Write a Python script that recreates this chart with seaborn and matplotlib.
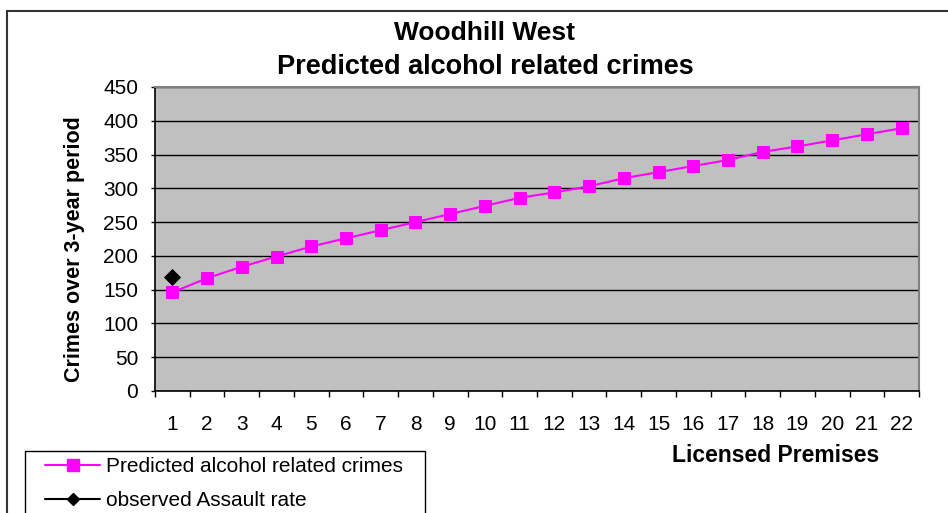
import numpy as np
import pandas as pd
import matplotlib
matplotlib.use("Agg")
import matplotlib.pyplot as plt
from matplotlib.lines import Line2D
from matplotlib.patches import Rectangle
import seaborn as sns

# values
premises = list(range(1, 23))
predicted = [146, 167, 184, 199, 214, 226, 238, 250, 262, 274, 286,
             294, 303, 315, 324, 333, 342, 354, 362, 371, 380, 389]
observed_x = [1]
observed_y = [169]
y_ticks = [0, 50, 100, 150, 200, 250, 300, 350, 400, 450]

pred_label = "Predicted alcohol related crimes"
obs_label = "observed Assault rate"

sns.set_theme(style="white")
plt.rcParams['font.family'] = ['Liberation Sans', 'DejaVu Sans']
plt.rcParams['text.color'] = 'black'
plt.rcParams['xtick.color'] = 'black'
plt.rcParams['ytick.color'] = 'black'

W, H = 948, 513
fig = plt.figure(figsize=(W / 100, H / 100), dpi=100)

# outer chart frame (right and bottom edges fall outside the picture)
fig.patches.append(Rectangle((7 / W, -0.1), 1.2, 1.1 - 11 / H,
                             transform=fig.transFigure, fill=False,
                             edgecolor='#333333', linewidth=1.5))

left, right, top, bottom = 155, 919, 87, 391
ax = fig.add_axes([left / W, 1 - bottom / H, (right - left) / W, (bottom - top) / H])
ax.set_facecolor('#C0C0C0')

df = pd.DataFrame({'premises': premises, 'predicted': predicted})
obs = pd.DataFrame({'premises': observed_x, 'observed': observed_y})

sns.lineplot(data=df, x='premises', y='predicted', ax=ax, color='#FF00FF',
             marker='s', markersize=9, markeredgecolor='#FF00FF',
             linewidth=1.5, legend=False)
sns.scatterplot(data=obs, x='premises', y='observed', ax=ax, color='black',
                marker='D', s=65, edgecolor='black', legend=False, zorder=5)

ax.set_xlim(0.5, 22.5)
ax.set_ylim(0, 450)
ax.set_yticks(y_ticks)
ax.yaxis.grid(True, color='black', linewidth=1)
ax.xaxis.grid(False)
ax.set_axisbelow(True)

ax.set_xticks(premises)
ax.set_xticks(np.arange(0.5, 23, 1), minor=True)
ax.tick_params(axis='x', which='major', length=0, pad=17, labelsize=15)
ax.tick_params(axis='x', which='minor', length=4, width=1, color='black', direction='out', bottom=True)
ax.tick_params(axis='y', length=3, width=1, color='black', direction='out', left=True,
               labelsize=15, pad=9)
ax.set_xlabel('')
ax.set_ylabel('')

for side in ['top', 'right']:
    ax.spines[side].set_color('#808080')
    ax.spines[side].set_linewidth(1.5)
for side in ['left', 'bottom']:
    ax.spines[side].set_color('black')
    ax.spines[side].set_linewidth(1.2)

fig.text(485 / W, 1 - 33 / H, "Woodhill West", ha='center', va='center',
         fontsize=19, fontweight='bold')
fig.text(485 / W, 1 - 67 / H, "Predicted alcohol related crimes", ha='center', va='center',
         fontsize=19.5, fontweight='bold')
fig.text(75 / W, 1 - 249 / H, "Crimes over 3-year period", ha='center', va='center',
         rotation=90, fontsize=15.5, fontweight='bold')
fig.text(776 / W, 1 - 456 / H, "Licensed Premises", ha='center', va='center',
         fontsize=16.5, fontweight='bold')

# legend box drawn separately so the inner padding can differ per side
fig.patches.append(Rectangle((25 / W, -0.1), 400 / W, 1.1 - 451 / H,
                             transform=fig.transFigure, facecolor='white',
                             edgecolor='black', linewidth=1))
handles = [
    Line2D([], [], color='#FF00FF', marker='s', markersize=8, linewidth=1.5),
    Line2D([], [], color='black', marker='D', markersize=6, linewidth=1.5),
]
leg = fig.legend(handles, [pred_label, obs_label], loc='upper left',
                 bbox_to_anchor=(45 / W, 1 - 457 / H), bbox_transform=fig.transFigure,
                 fontsize=15, frameon=False,
                 handlelength=2.64, handletextpad=0.3, labelspacing=0.72,
                 borderpad=0, borderaxespad=0)

fig.savefig('out.png', dpi=100)
